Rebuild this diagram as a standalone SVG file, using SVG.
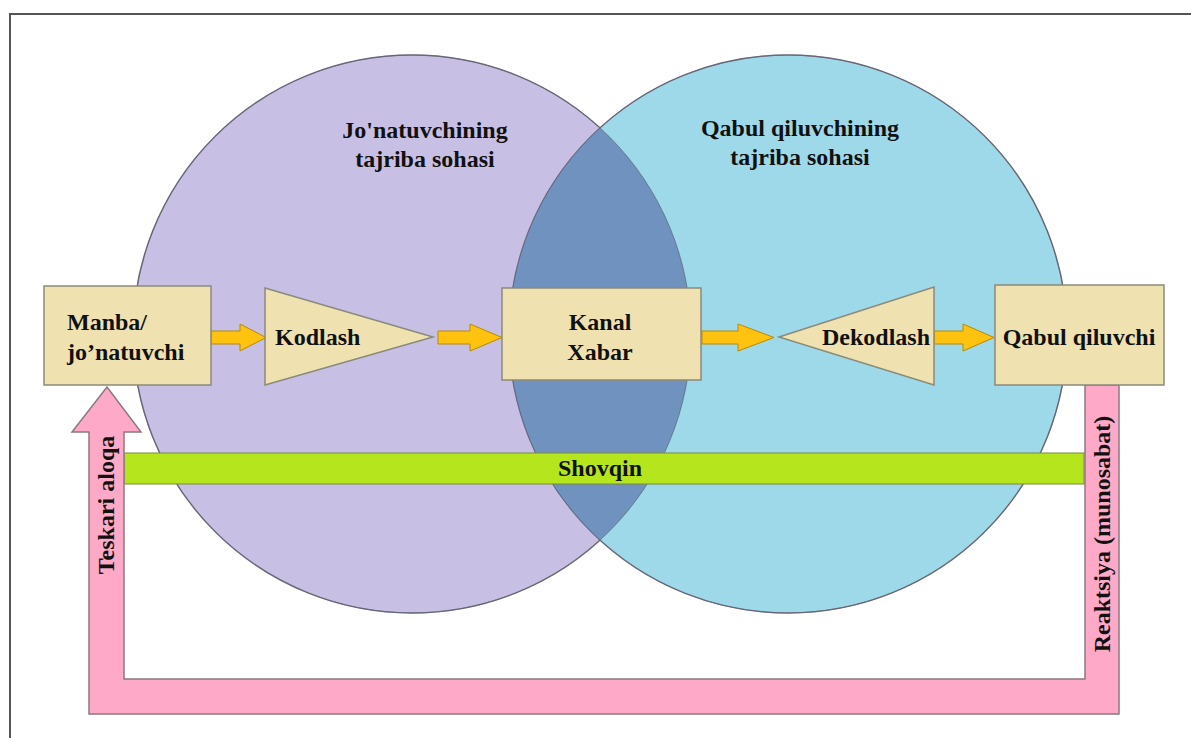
<svg xmlns="http://www.w3.org/2000/svg" width="1191" height="738" viewBox="0 0 1191 738">
<style>
.t{font-family:'Liberation Serif','DejaVu Serif','Times New Roman',serif;font-weight:700;font-size:24px;fill:#111;}
.box{fill:#EFE2B0;stroke:#8a8a7a;stroke-width:1.5;}
.arr{fill:#FFC20E;stroke:#B88A00;stroke-width:1;}
.circ{stroke:#7a7a8a;stroke-width:1.5;}
</style>
<defs>
<clipPath id="clipL"><circle cx="412" cy="334" r="279"/></clipPath>
</defs>
<rect x="0" y="0" width="1191" height="738" fill="#fff"/>
<path d="M10,738 V14 H1191" fill="none" stroke="#555" stroke-width="2"/>
<g id="circles">
<circle class="circ" cx="412" cy="334" r="279" fill="#C8BFE4"/>
<circle class="circ" cx="788" cy="334" r="279" fill="#9ED9E9"/>
<circle cx="788" cy="334" r="279" fill="#6F93BE" clip-path="url(#clipL)"/>
<circle cx="412" cy="334" r="279" fill="none" stroke="#556" stroke-width="1" stroke-opacity="0.6"/>
<circle cx="788" cy="334" r="279" fill="none" stroke="#556" stroke-width="1" stroke-opacity="0.6"/>
</g>
<g id="sender-label">
<text class="t" x="425" y="138" text-anchor="middle">Jo'natuvchining</text>
<text class="t" x="425" y="167" text-anchor="middle">tajriba sohasi</text>
</g>
<g id="receiver-label">
<text class="t" x="800" y="136" text-anchor="middle">Qabul qiluvchining</text>
<text class="t" x="800" y="165" text-anchor="middle">tajriba sohasi</text>
</g>
<g id="noise">
<rect x="124" y="453" width="960" height="31" fill="#B5E61D" stroke="#7a8a3a" stroke-width="1"/>
<text class="t" x="600" y="476" text-anchor="middle">Shovqin</text>
</g>
<g id="feedback">
<polygon points="1085,385 1119,385 1119,714 89,714 89,432 72,432 107,387 141,432 124,432 124,679 1085,679" fill="#FFA9C8" stroke="#8a7a80" stroke-width="1.5"/>
<text class="t" transform="translate(114,505) rotate(-90)" text-anchor="middle">Teskari aloqa</text>
<text class="t" transform="translate(1110,534) rotate(-90)" text-anchor="middle">Reaktsiya (munosabat)</text>
</g>
<g id="connectors">
<polygon class="arr" points="211,331 240,331 240,324 266,337.5 240,351 240,344 211,344"/>
<polygon class="arr" points="438,331 470,331 470,324 502,337.5 470,351 470,344 438,344"/>
<polygon class="arr" points="702,331 738,331 738,324 774,337.5 738,351 738,344 702,344"/>
<polygon class="arr" points="934,331 963,331 963,324 994,337.5 963,351 963,344 934,344"/>
</g>
<g id="source">
<rect class="box" x="44" y="286" width="167" height="99"/>
<text class="t" x="67" y="330">Manba/</text>
<text class="t" x="67" y="360">jo’natuvchi</text>
</g>
<g id="encode">
<polygon class="box" points="265,288 433,337 265,385"/>
<text class="t" x="275" y="345">Kodlash</text>
</g>
<g id="channel">
<rect class="box" x="502" y="288" width="199" height="92"/>
<text class="t" x="600" y="330" text-anchor="middle">Kanal</text>
<text class="t" x="600" y="360" text-anchor="middle">Xabar</text>
</g>
<g id="decode">
<polygon class="box" points="779,337 934,287 934,385"/>
<text class="t" x="876" y="345" text-anchor="middle">Dekodlash</text>
</g>
<g id="receiver">
<rect class="box" x="995" y="285" width="169" height="100"/>
<text class="t" x="1079" y="345" text-anchor="middle">Qabul qiluvchi</text>
</g>
</svg>
